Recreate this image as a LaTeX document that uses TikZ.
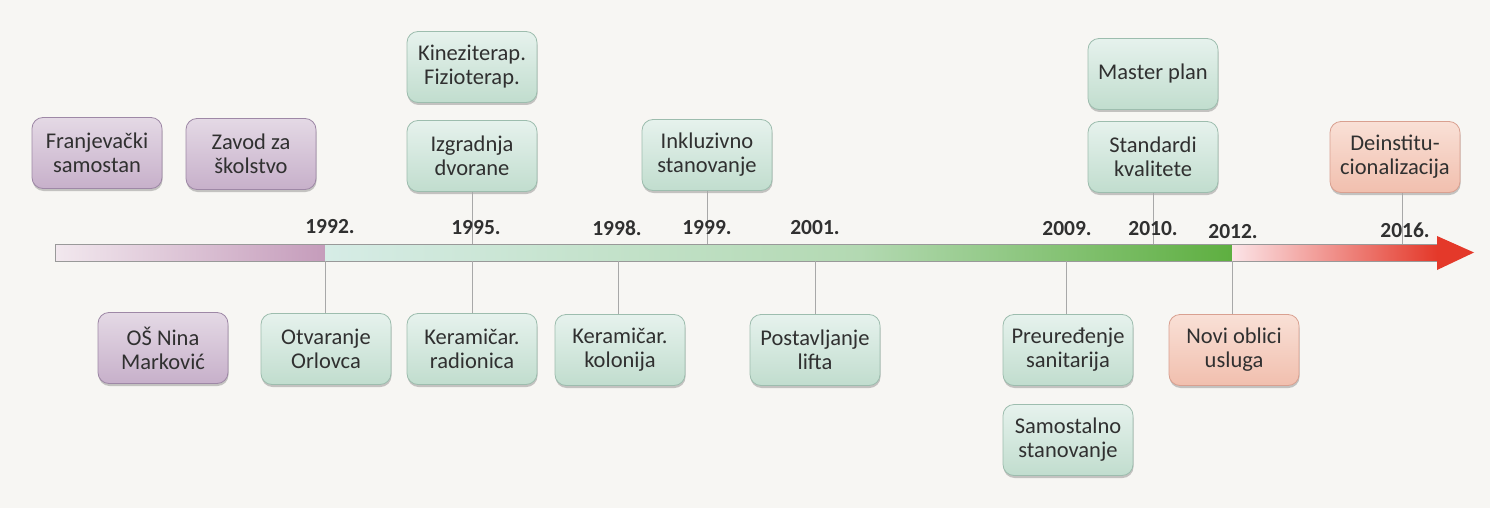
\documentclass[tikz,border=0pt]{standalone}
\usepackage{fontspec}
\setmainfont{Carlito}
\usetikzlibrary{shadows}
\definecolor{bg}{HTML}{F7F6F3}
\definecolor{txt}{HTML}{303030}
\definecolor{pA}{HTML}{E4D9E5}
\definecolor{pB}{HTML}{C7B0CA}
\definecolor{pD}{HTML}{9E88A6}
\definecolor{gA}{HTML}{E6F2ED}
\definecolor{gB}{HTML}{C1DDCE}
\definecolor{gD}{HTML}{9DBDAE}
\definecolor{oA}{HTML}{F9E0D6}
\definecolor{oB}{HTML}{F1BFAE}
\definecolor{oD}{HTML}{D9A090}
\definecolor{barA}{HTML}{F2E8EE}
\definecolor{barB}{HTML}{C59CBB}
\definecolor{G1}{HTML}{D6ECE6}
\definecolor{G2}{HTML}{B3D9B2}
\definecolor{G3}{HTML}{5EAF40}
\definecolor{R1}{HTML}{FBE4E7}
\definecolor{R2}{HTML}{E4392A}
\definecolor{conn}{HTML}{A8A8A8}
\tikzset{
  evbox/.style={rounded corners=11pt, minimum width=130pt, minimum height=71pt,
    inner sep=0pt, align=center, text=txt, line width=0.8pt,
    font=\fontsize{22.5}{24}\selectfont,
    drop shadow={shadow xshift=0.5pt, shadow yshift=-2.5pt, opacity=0.3, fill=black!70}},
  pbox/.style={evbox, draw=pD, top color=pA, bottom color=pB},
  gbox/.style={evbox, draw=gD, top color=gA, bottom color=gB},
  obox/.style={evbox, draw=oD, top color=oA, bottom color=oB},
  yearlbl/.style={font=\fontsize{21.5}{24}\selectfont\bfseries, text=txt, inner sep=0pt},
  connector/.style={draw=conn, line width=0.7pt}
}
\begin{document}
\begin{tikzpicture}[x=1pt,y=-1pt]
\fill[bg] (0,0) rectangle (1490,508);
\useasboundingbox (0,0) rectangle (1490,508);

% timeline bar
\shade[left color=barA, right color=barB] (55,244) rectangle (325,261);
\shade[left color=G1, right color=G2] (325,244) rectangle (860,261);
\shade[left color=G2, right color=G3] (860,244) rectangle (1232,261);
\shade[left color=R1, right color=R2] (1232,244) rectangle (1437,261);
\draw[gray!80, line width=0.8pt] (55,244) rectangle (1437,261);
\fill[R2] (1437,236) -- (1474,252.5) -- (1437,270) -- cycle;
\coordinate (bartop) at (0,244);
\coordinate (barbot) at (0,261);

% top boxes
\node[pbox] (fran) at (97,153) {Franjevački\\samostan};
\node[pbox] (zavod) at (251,154) {Zavod za\\školstvo};
\node[gbox] (kinez) at (472,67) {Kineziterap.\\Fizioterap.};
\node[gbox] (izgr) at (472,156) {Izgradnja\\dvorane};
\node[gbox] (inkl) at (707,155) {Inkluzivno\\stanovanje};
\node[gbox] (master) at (1153,74) {Master plan};
\node[gbox] (stand) at (1153,157) {Standardi\\kvalitete};
\node[obox] (deinst) at (1395,157) {Deinstitu-\\cionalizacija};

% bottom boxes
\node[pbox] (osnina) at (163,348) {OŠ Nina\\Marković};
\node[gbox] (otv) at (326,349) {Otvaranje\\Orlovca};
\node[gbox] (kerrad) at (472,349) {Keramičar.\\radionica};
\node[gbox] (kerkol) at (620,350) {Keramičar.\\kolonija};
\node[gbox] (lift) at (815,350) {Postavljanje\\lifta};
\node[gbox] (preur) at (1068,350) {Preuređenje\\sanitarija};
\node[gbox] (samost) at (1068,440) {Samostalno\\stanovanje};
\node[obox] (novi) at (1234,350) {Novi oblici\\usluga};

% connectors
\draw[connector] (izgr.south) -- (izgr.south |- bartop);
\draw[connector] (inkl.south) -- (inkl.south |- bartop);
\draw[connector] (stand.south) -- (stand.south |- bartop);
\draw[connector] ([xshift=7pt]deinst.south) -- ([xshift=7pt]deinst.south |- bartop);
\draw[connector] ([xshift=-1pt]otv.north) -- ([xshift=-1pt]otv.north |- barbot);
\draw[connector] (kerrad.north) -- (kerrad.north |- barbot);
\draw[connector] ([xshift=-2pt]kerkol.north) -- ([xshift=-2pt]kerkol.north |- barbot);
\draw[connector] (lift.north) -- (lift.north |- barbot);
\draw[connector] ([xshift=-2pt]preur.north) -- ([xshift=-2pt]preur.north |- barbot);
\draw[connector] ([xshift=-2pt]novi.north) -- ([xshift=-2pt]novi.north |- barbot);

% year labels
\node[yearlbl] (y1992) at (330,227) {1992.};
\node[yearlbl] (y1995) at (476,228) {1995.};
\node[yearlbl] (y1998) at (617,228) {1998.};
\node[yearlbl] (y1999) at (707,228) {1999.};
\node[yearlbl] (y2001) at (815,228) {2001.};
\node[yearlbl] (y2009) at (1067,229) {2009.};
\node[yearlbl] (y2010) at (1153,229) {2010.};
\node[yearlbl] (y2012) at (1233,232) {2012.};
\node[yearlbl] (y2016) at (1405,230) {2016.};
\end{tikzpicture}
\end{document}
